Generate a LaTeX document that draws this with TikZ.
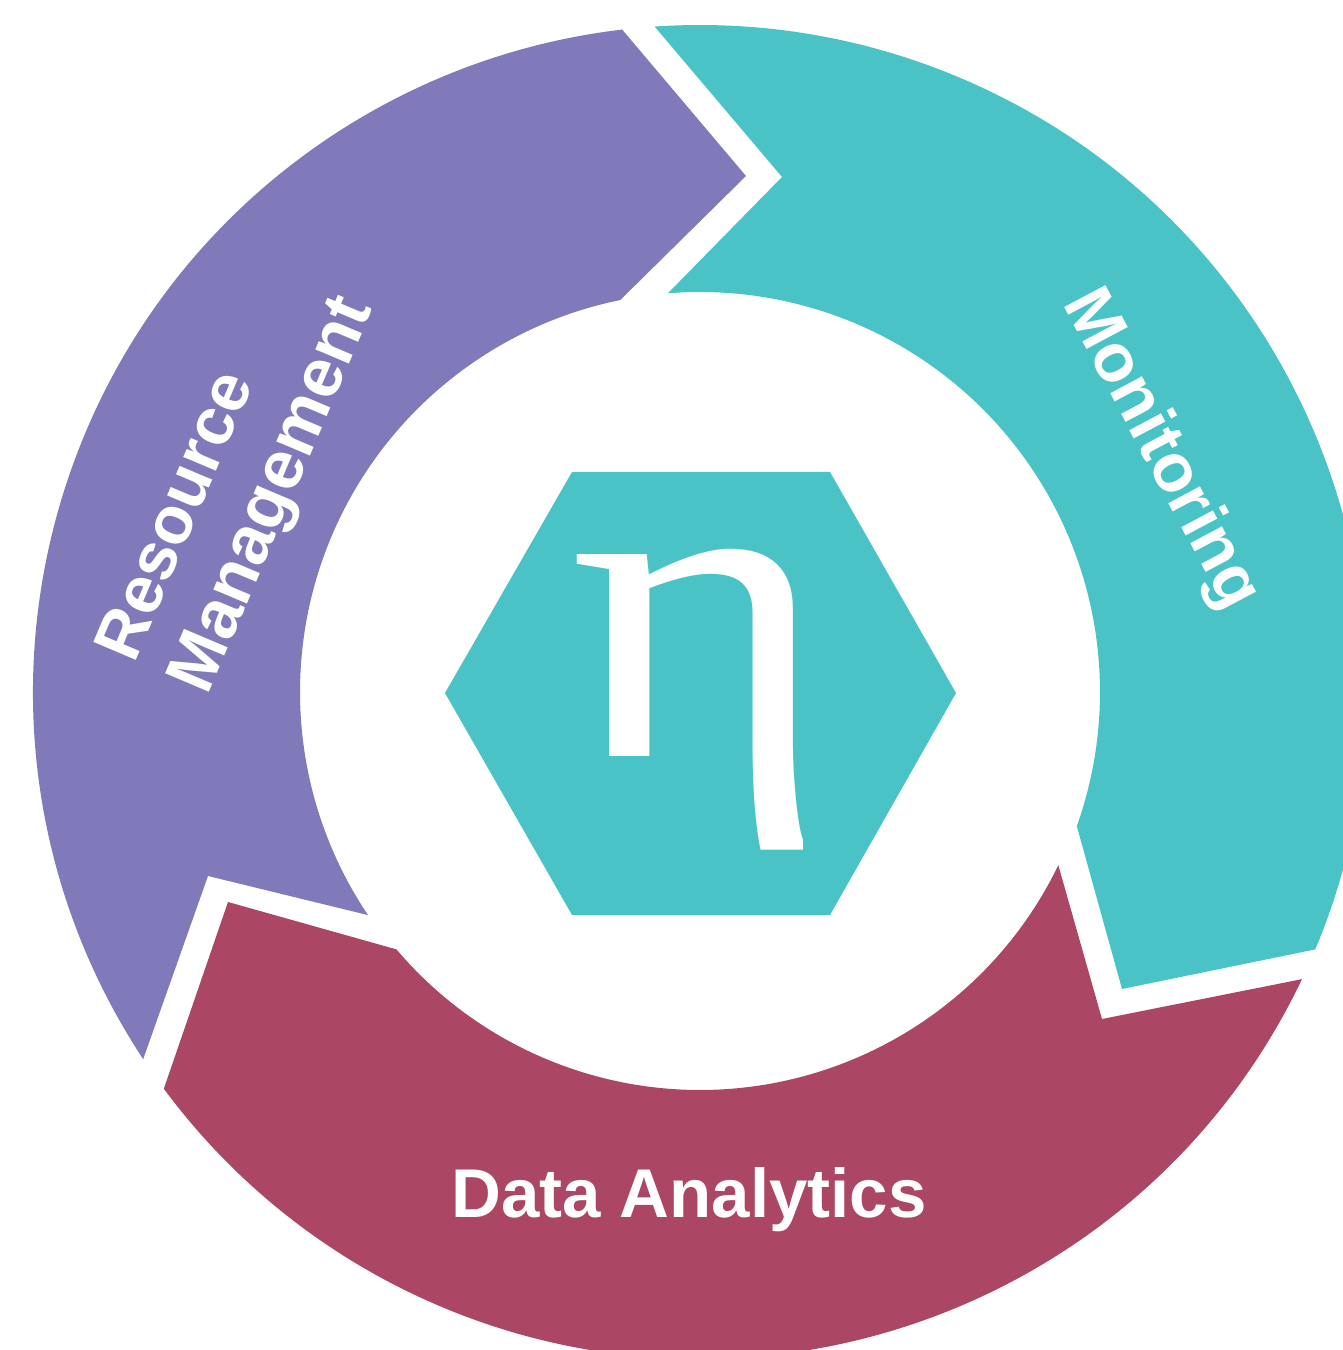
\documentclass[tikz,border=0pt]{standalone}
\usepackage{fontspec}
\setmainfont{Liberation Sans}
\newfontfamily\etafont{Liberation Serif}
\definecolor{purpleband}{HTML}{807ABA}
\definecolor{tealband}{HTML}{4AC3C7}
\definecolor{redband}{HTML}{AC4665}
\tikzset{
  label text/.style={text=white,font=\fontsize{#1}{#1}\selectfont\bfseries,inner sep=0pt,align=center},
  label text/.default=68,
}
\begin{document}
\begin{tikzpicture}[x=1pt,y=1pt]
\clip (0,0) rectangle (1343,1350);
\coordinate (c) at (700,658);
% purple
\fill[purpleband] ([shift={(c)}]101.5:400pt) arc[start angle=101.5,end angle=213.9,radius=400pt]
  -- (208,474) -- ([shift={(c)}]213.4:667pt) arc[start angle=213.4,end angle=96.7,radius=667pt]
  -- (746,1174) -- cycle;
% teal
\fill[tealband] ([shift={(c)}]94.6:400pt) arc[start angle=94.6,end angle=-19.6,radius=400pt]
  -- (1122,361) -- ([shift={(c)}]-22.7:667pt) arc[start angle=-22.7,end angle=93.9,radius=667pt]
  -- (782,1173) -- cycle;
% red
\fill[redband] ([shift={(c)}]220.3:398pt) arc[start angle=220.3,end angle=334.2,radius=398pt]
  -- (1102,331) -- ([shift={(c)}]-25.5:667pt) arc[start angle=-25.5,end angle=-143.5,radius=667pt]
  -- (228,448) -- cycle;
% hexagon
\fill[tealband] (445,657) -- (572,878) -- (830,878) -- (956,657) -- (830,435) -- (572,435) -- cycle;
\node[text=white,inner sep=0pt,xscale=1.13,font=\fontsize{440}{440}\etafont] (eta) at (699,650) {η};
\node[label text,rotate=-62] (mon) at (1160,900) {Monitoring};
\node[label text=67,rotate=67] (res) at (173,835) {Resource};
\node[label text=69,rotate=67] (man) at (275,854) {Management};
\node[label text=69] (data) at (689,150) {Data Analytics};
\end{tikzpicture}
\end{document}
